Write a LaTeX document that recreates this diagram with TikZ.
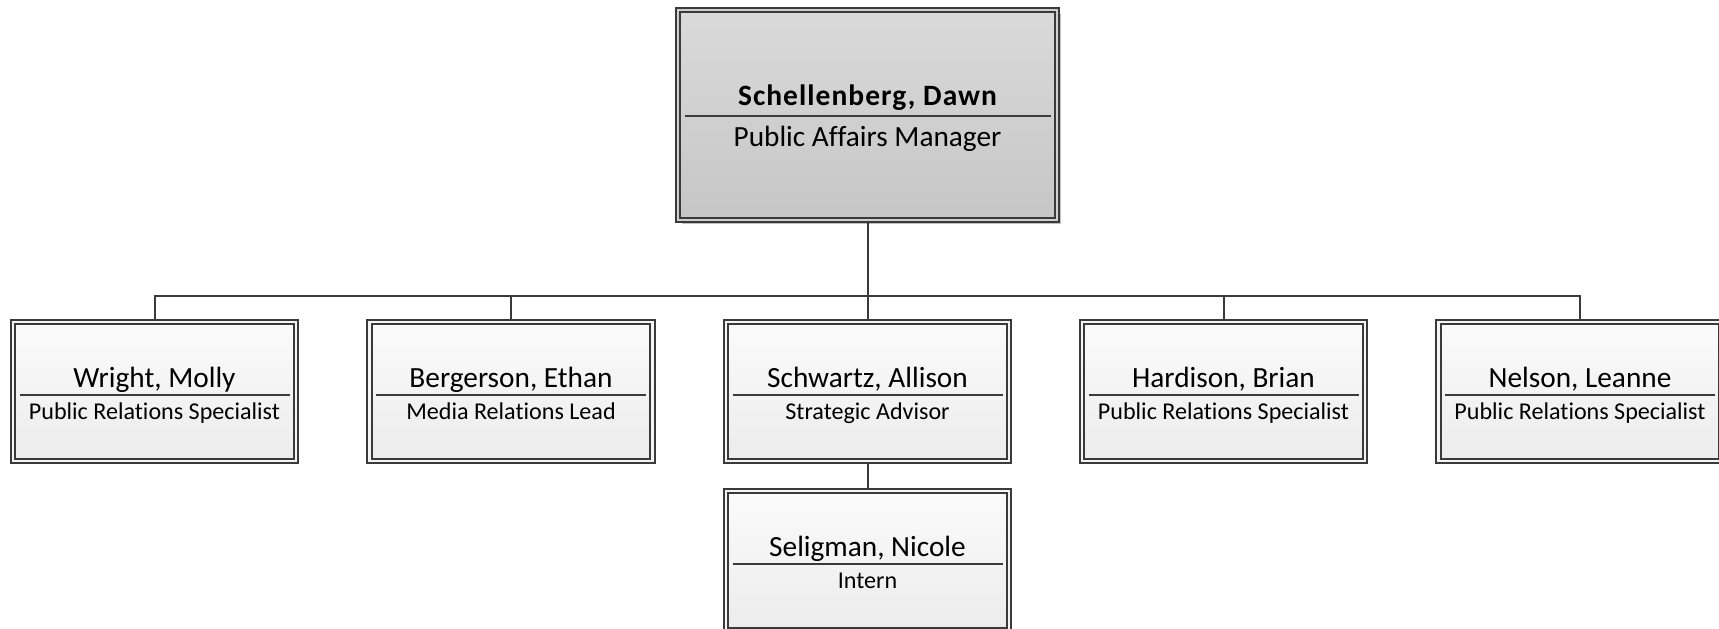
\documentclass[tikz,border=0pt]{standalone}
\usepackage{fontspec}
\setmainfont{Carlito}[Ligatures=NoCommon]
\usetikzlibrary{shadows,backgrounds}
\definecolor{ln}{HTML}{3A3A3A}
\definecolor{ctop}{HTML}{FBFBFB}
\definecolor{cbot}{HTML}{ECECEC}
\definecolor{ttop}{HTML}{DADADA}
\definecolor{tbot}{HTML}{C6C6C6}
\tikzset{
  orgbox/.style={draw=ln, line width=2pt, double distance=2.6pt, inner sep=0pt, outer sep=0pt},
  childbox/.style={orgbox, double=white!96!black, top color=ctop, bottom color=cbot,
    minimum width=283pt, minimum height=139pt},
  headbox/.style={orgbox, double=ttop!50!tbot, top color=ttop, bottom color=tbot,
    minimum width=379pt, minimum height=210pt,
    drop shadow={shadow xshift=4pt, shadow yshift=-4pt, opacity=0.25, fill=black}},
  sepline/.style={draw=ln, line width=1.4pt},
  conn/.style={draw=ln, line width=2pt},
  nametext/.style={font=\fontsize{29.3}{31}\selectfont, text=black, inner sep=0pt, anchor=base},
  titletext/.style={font=\fontsize{24.1}{26}\selectfont, text=black, inner sep=0pt, anchor=base},
  headname/.style={font=\bfseries\fontsize{29.5}{31}\selectfont\addfontfeature{LetterSpace=3.5}, text=black, inner sep=0pt, anchor=base},
}
\newcommand\orgunit[5]{%
  \node[childbox] (#1) at (#2,#3) {};
  \draw[sepline] ([xshift=6.5pt,yshift=-73pt]#1.north west) -- ([xshift=-6.5pt,yshift=-73pt]#1.north east);
  \node[nametext] (#1-name) at ([yshift=-65pt]#1.north) {#4};
  \node[titletext] (#1-title) at ([yshift=-97pt]#1.north) {#5};
}
\begin{document}
\begin{tikzpicture}[x=1pt,y=-1pt]
  \useasboundingbox (0,0) rectangle (1719,629);
  \clip (0,0) rectangle (1719,629);
  % head
  \node[headbox] (head) at (867.5,115) {};
  \draw[sepline] ([xshift=6.5pt,yshift=-106pt]head.north west) -- ([xshift=-6.5pt,yshift=-106pt]head.north east);
  \node[headname] (head-name) at ([yshift=-95.5pt]head.north) {Schellenberg, Dawn};
  \node[nametext] (head-title) at ([yshift=-136pt]head.north) {Public Affairs Manager};
  % children
  \orgunit{wright}{154.5}{391.5}{Wright, Molly}{Public Relations Specialist}
  \orgunit{berg}{511}{391.5}{Bergerson, Ethan}{Media Relations Lead}
  \orgunit{schw}{867.5}{391.5}{Schwartz, Allison}{Strategic Advisor}
  \orgunit{hard}{1223.5}{391.5}{Hardison, Brian}{Public Relations Specialist}
  \orgunit{nels}{1580}{391.5}{Nelson, Leanne}{Public Relations Specialist}
  \orgunit{selig}{867.5}{560.5}{Seligman, Nicole}{Intern}
  % connectors
  \begin{scope}[on background layer]
    \fill[white] (0,0) rectangle (1719,629);
    \coordinate (bus) at (867.5,296);
    \draw[conn] (head.south) -- (bus);
    \foreach \c in {wright,berg,schw,hard,nels} \draw[conn] (bus) -| (\c.north);
    \draw[conn] (schw.south) -- (selig.north);
  \end{scope}
\end{tikzpicture}
\end{document}
